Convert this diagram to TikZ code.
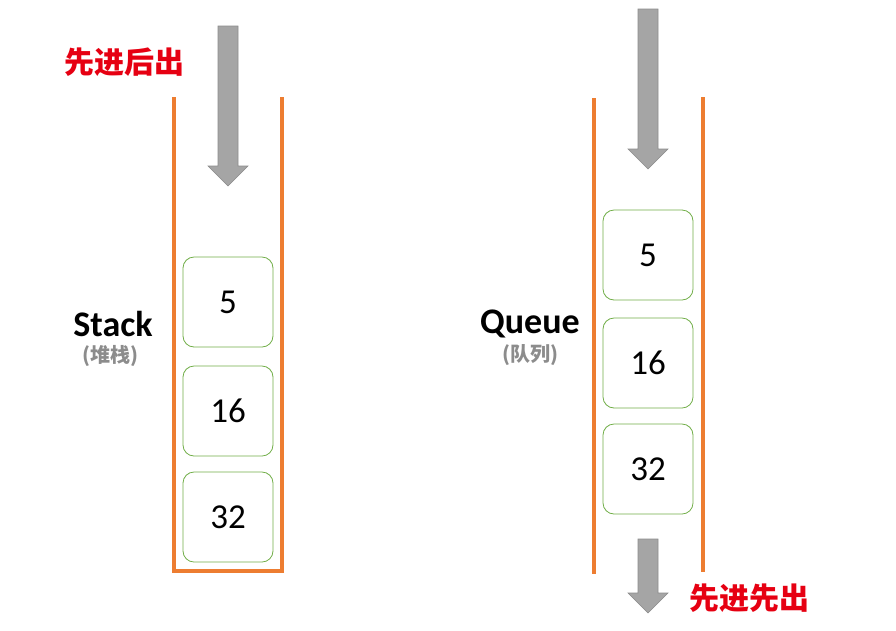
\documentclass[tikz,border=0pt]{standalone}
\usepackage{fontspec}
\setmainfont{Carlito}
\newfontfamily\cjk{Noto Sans CJK SC}
\usetikzlibrary{positioning}
\definecolor{morange}{RGB}{237, 125, 49}
\definecolor{mgreen}{RGB}{112, 173, 71}
\definecolor{mgray}{RGB}{165, 165, 165}
\definecolor{mred}{RGB}{230, 0, 18}
\tikzset{wall/.style = {draw = morange, line width = 3.5},
  cell/.style = {draw = mgreen, line width = 0.8, rounded corners = 11,
    minimum size = 90, inner sep = 0, font = \fontsize{35}{40}\selectfont},
  darrow/.style = {fill = mgray, draw = mgray!85!black, line width = 0.6},
  title/.style = {font = \fontsize{36}{42}\selectfont\bfseries},
  subtitle/.style = {text = black!45, font = \cjk\fontsize{20}{24}\selectfont\bfseries},
  rule/.style = {text = mred, font = \cjk\fontsize{30}{36}\selectfont\bfseries}}

\begin{document}
\begin{tikzpicture}[x = 1pt, y = -1pt]
    \useasboundingbox (0, 0) rectangle (896, 630);
    % stack
    \draw [wall] (174, 97) -- (174, 571) -- (282, 571) -- (282, 97);
    \draw [darrow] (218, 26) -- (238, 26) -- (238, 166) -- (248, 166)
      -- (228, 186) -- (208, 166) -- (218, 166) -- cycle;
    \node [cell] (s5) at (228, 302) {5};
    \node [cell] (s16) at (228, 411) {16};
    \node [cell] (s32) at (228, 517) {32};
    \node [title] (stack) at (113, 324) {Stack};
    \node [subtitle] (stackcn) at (110, 356) {(堆栈)};
    \node [rule] (lifo) at (124, 62) {先进后出};
    % queue
    \draw [wall] (594, 98) -- (594, 574);
    \draw [wall] (703, 97) -- (703, 572);
    \draw [darrow] (638, 9) -- (658, 9) -- (658, 149) -- (668, 149)
      -- (648, 169) -- (628, 149) -- (638, 149) -- cycle;
    \draw [darrow] (638, 539) -- (658, 539) -- (658, 593) -- (668, 593)
      -- (648, 613) -- (628, 593) -- (638, 593) -- cycle;
    \node [cell] (q5) at (648, 255) {5};
    \node [cell] (q16) at (648, 363) {16};
    \node [cell] (q32) at (648, 469) {32};
    \node [title] (queue) at (530, 324) {Queue};
    \node [subtitle] (queuecn) at (530, 355) {(队列)};
    \node [rule] (fifo) at (749, 598) {先进先出};
  \end{tikzpicture}
\end{document}
